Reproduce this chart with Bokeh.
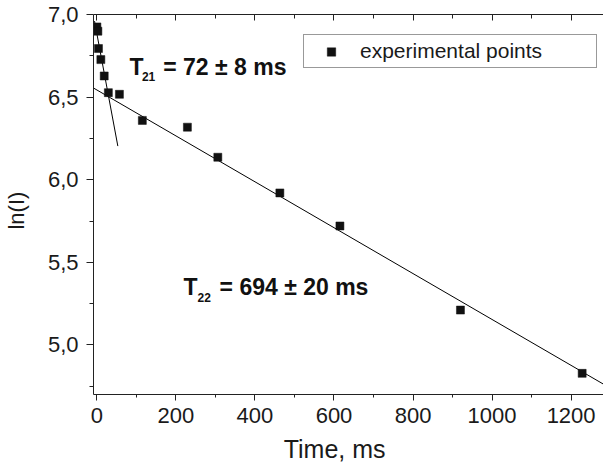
import numpy as np
from bokeh.plotting import figure
from bokeh.models import (Label, Range1d, FixedTicker, CustomJSTickFormatter,
                          LinearAxis, Legend, LegendItem, ColumnDataSource)
from bokeh.embed import file_html
from bokeh.resources import INLINE

# ---- data ----
time_ms = [0, 2.5, 4, 10, 18.5, 29, 57, 115, 229, 306, 463, 615, 920, 1228]
ln_I = [6.925, 6.899, 6.794, 6.727, 6.628, 6.527, 6.517, 6.359, 6.318, 6.136,
        5.92, 5.72, 5.211, 4.828]

# fitted straight lines (intercept at t=0, decay constant in ms, drawn span)
fast_intercept, fast_tau, fast_span = 6.883, 78.0, [-6, 53]
slow_intercept, slow_tau, slow_span = 6.543, 720.0, [-8.6, 1282]

x_ticks = [0, 200, 400, 600, 800, 1000, 1200]
x_minor = [100, 300, 500, 700, 900, 1100, 1300]
y_ticks = [5.0, 5.5, 6.0, 6.5, 7.0]
y_minor = [4.75, 5.25, 5.75, 6.25, 6.75]

FONT = "Liberation Sans"
NB = "\u00a0"

p = figure(width=603, height=468, output_backend="svg", toolbar_location=None,
           title=None, x_range=Range1d(-8.6, 1282), y_range=Range1d(4.70, 7.0),
           min_border_left=93, min_border_right=0, min_border_top=14,
           min_border_bottom=74, x_axis_type=None, y_axis_type=None)
p.grid.visible = False
p.outline_line_color = None
p.background_fill_color = "white"
p.border_fill_color = "white"

# axes
xaxis = LinearAxis(ticker=FixedTicker(ticks=x_ticks, minor_ticks=x_minor),
                   axis_label="Time, ms" + NB * 4)
yaxis = LinearAxis(ticker=FixedTicker(ticks=y_ticks, minor_ticks=y_minor),
                   formatter=CustomJSTickFormatter(code="return tick.toFixed(1).replace('.', ',');"),
                   axis_label="ln(I)" + NB * 2)
top = LinearAxis(ticker=FixedTicker(ticks=x_ticks, minor_ticks=x_minor))
for ax in (xaxis, yaxis, top):
    ax.axis_line_color = "#222222"
    ax.major_tick_line_color = "#222222"
    ax.minor_tick_line_color = "#222222"
    ax.major_label_text_font = FONT
    ax.major_label_text_font_size = "22px"
    ax.major_label_text_color = "#1a1a1a"
    ax.axis_label_text_font = FONT
    ax.axis_label_text_font_style = "normal"
    ax.axis_label_text_color = "#1a1a1a"
xaxis.major_tick_out = 6
xaxis.major_tick_in = 0
xaxis.minor_tick_out = 3
xaxis.minor_tick_in = 0
xaxis.major_label_standoff = 7
xaxis.axis_label_text_font_size = "25px"
xaxis.axis_label_standoff = 9
yaxis.major_tick_out = 7
yaxis.major_tick_in = 0
yaxis.minor_tick_out = 4
yaxis.minor_tick_in = 0
yaxis.major_label_standoff = 8
yaxis.axis_label_text_font_size = "22px"
yaxis.axis_label_standoff = 16
top.major_tick_out = 0
top.major_tick_in = 6
top.minor_tick_out = 0
top.minor_tick_in = 4
top.major_label_text_font_size = "0px"
top.major_label_standoff = 0
top.major_label_text_alpha = 0
p.add_layout(xaxis, "below")
p.add_layout(yaxis, "left")
p.add_layout(top, "above")

# fit lines
ft = np.array(fast_span, dtype=float)
p.line(ft, fast_intercept - ft / fast_tau, line_color="black", line_width=1)
st = np.array(slow_span, dtype=float)
p.line(st, slow_intercept - st / slow_tau, line_color="black", line_width=1)

# points
src = ColumnDataSource(dict(t=time_ms, v=ln_I))
pts = p.scatter("t", "v", source=src, marker="square", size=8,
                fill_color="#111111", line_color="#111111", line_width=0.5)

legend = Legend(items=[LegendItem(label="experimental points", renderers=[pts])],
                location=(210, 326), border_line_color="#333333",
                border_line_width=1, background_fill_color="white",
                padding=4, spacing=0, margin=0, glyph_width=46, glyph_height=21,
                label_standoff=6, label_width=232, label_height=21,
                label_text_font=FONT, label_text_font_size="21px",
                label_text_color="#1a1a1a")
p.add_layout(legend, "center")

def lab(text, x, y, size):
    p.add_layout(Label(x=x, y=y, text=text, text_font=FONT,
                       text_font_size=size, text_color="#111111",
                       text_font_style="bold", text_baseline="alphabetic",
                       text_align="left"))

# T21 annotation
lab("T", 82.5, 6.682, "23px")
lab("21", 113.9, 6.626, "12px")
lab("= 72 \u00b1 8 ms", 167.8, 6.682, "23px")
# T22 annotation
lab("T", 219.2, 5.348, "23px")
lab("22", 254.7, 5.287, "12px")
lab("= 694 \u00b1 20 ms", 310.4, 5.348, "23px")

open("out.html", "w").write(file_html(p, INLINE))
